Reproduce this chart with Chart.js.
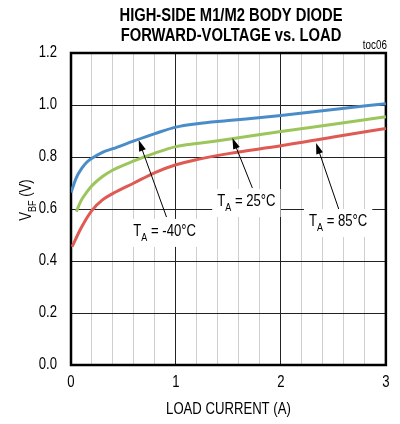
<!DOCTYPE html>
<html>
<head>
<meta charset="utf-8">
<script src="https://cdn.jsdelivr.net/npm/chart.js@4.4.1/dist/chart.umd.min.js"></script>
<style>
  body { margin: 0; background: #fff; }
  #wrap { width: 400px; height: 424px; }
</style>
</head>
<body>
<div id="wrap"><canvas id="chart" width="400" height="424"></canvas></div>
<script>
// load current (A) / body diode forward voltage (V)
const xM40 = [0, 0.05, 0.1, 0.15, 0.2, 0.3, 0.4, 0.6, 0.8, 1.0, 1.2, 1.5, 2.0, 2.5, 3.0];
const vM40 = [0.663, 0.72, 0.755, 0.78, 0.795, 0.818, 0.832, 0.862, 0.89, 0.915, 0.928, 0.94, 0.96, 0.983, 1.005];

const x25 = [0.05, 0.1, 0.15, 0.2, 0.3, 0.4, 0.6, 0.8, 1.0, 1.2, 1.5, 2.0, 2.5, 3.0];
const v25 = [0.59, 0.635, 0.665, 0.69, 0.725, 0.75, 0.785, 0.815, 0.84, 0.852, 0.868, 0.898, 0.926, 0.955];

const x85 = [0.01, 0.1, 0.2, 0.3, 0.4, 0.6, 0.8, 1.0, 1.2, 1.5, 2.0, 2.5, 3.0];
const v85 = [0.455, 0.53, 0.595, 0.635, 0.66, 0.7, 0.74, 0.77, 0.79, 0.813, 0.843, 0.877, 0.91];

const xTicks = [0, 1, 2, 3];
const yTicks = [0, 0.2, 0.4, 0.6, 0.8, 1.0, 1.2];

const seriesNames = ['-40°C', '25°C', '85°C'];
const seriesColors = ['#4a8cc8', '#9cc65c', '#de5a52'];

// label text, label centre, arrow tail, arrow tip (in data units)
const notes = [
  { t: ' = -40°C', at: [0.892, 0.512], from: [0.91, 0.569], to: [0.645, 0.865] },
  { t: ' = 25°C',  at: [1.671, 0.627], from: [1.728, 0.681], to: [1.538, 0.873] },
  { t: ' = 85°C',  at: [2.545, 0.55],  from: [2.554, 0.596], to: [2.335, 0.854] }
];

const FONT = '"Liberation Sans", Arial, sans-serif';
const SX = 0.82; // squeeze to look like Arial Narrow

function pts(xs, ys) {
  return xs.map((x, i) => ({ x: x, y: ys[i] }));
}

// draw narrow text
function txt(ctx, s, x, y, font, align) {
  ctx.save();
  ctx.font = font;
  ctx.textAlign = align || 'left';
  ctx.textBaseline = 'middle';
  ctx.translate(x, y);
  ctx.scale(SX, 1);
  ctx.fillText(s, 0, 0);
  ctx.restore();
}
function tw(ctx, s, font) {
  ctx.font = font;
  return ctx.measureText(s).width * SX;
}

// main text + subscript + rest, centred on x
function subText(ctx, a, b, c, x, y) {
  const big = '16px ' + FONT, small = '11px ' + FONT;
  const wa = tw(ctx, a, big), wb = tw(ctx, b, small), wc = tw(ctx, c, big);
  const left = x - (wa + wb + wc) / 2;
  txt(ctx, a, left, y, big);
  txt(ctx, b, left + wa, y + 6, small);
  txt(ctx, c, left + wa + wb, y, big);
  return wa + wb + wc;
}

const extras = {
  id: 'extras',
  beforeDatasetsDraw(chart) {
    const ctx = chart.ctx, a = chart.chartArea;
    ctx.save();
    ctx.strokeStyle = '#000';
    ctx.lineWidth = 2.5;
    ctx.strokeRect(a.left, a.top, a.right - a.left, a.bottom - a.top);
    ctx.restore();
  },
  afterDatasetsDraw(chart) {
    const ctx = chart.ctx, xs = chart.scales.x, ys = chart.scales.y;
    ctx.save();
    notes.forEach(n => {
      const x1 = xs.getPixelForValue(n.from[0]), y1 = ys.getPixelForValue(n.from[1]);
      const x2 = xs.getPixelForValue(n.to[0]), y2 = ys.getPixelForValue(n.to[1]);
      const ang = Math.atan2(y2 - y1, x2 - x1);
      ctx.strokeStyle = '#000';
      ctx.lineWidth = 1;
      ctx.beginPath();
      ctx.moveTo(x1, y1);
      ctx.lineTo(x2 - 8 * Math.cos(ang), y2 - 8 * Math.sin(ang));
      ctx.stroke();
      ctx.fillStyle = '#000';
      ctx.beginPath();
      ctx.moveTo(x2, y2);
      ctx.lineTo(x2 - 11 * Math.cos(ang) + 3.5 * Math.sin(ang), y2 - 11 * Math.sin(ang) - 3.5 * Math.cos(ang));
      ctx.lineTo(x2 - 11 * Math.cos(ang) - 3.5 * Math.sin(ang), y2 - 11 * Math.sin(ang) + 3.5 * Math.cos(ang));
      ctx.closePath();
      ctx.fill();

      const cx = xs.getPixelForValue(n.at[0]), cy = ys.getPixelForValue(n.at[1]);
      const w = tw(ctx, 'T', '16px ' + FONT) + tw(ctx, 'A', '11px ' + FONT) + tw(ctx, n.t, '16px ' + FONT);
      ctx.fillStyle = '#fff';
      ctx.fillRect(cx - w / 2 - 5, cy - 13, w + 10, 28);
      ctx.fillStyle = '#000';
      subText(ctx, 'T', 'A', n.t, cx, cy);
    });
    ctx.restore();
  },
  afterDraw(chart) {
    const ctx = chart.ctx, a = chart.chartArea, xs = chart.scales.x, ys = chart.scales.y;
    ctx.save();
    ctx.fillStyle = '#000';
    txt(ctx, 'HIGH-SIDE M1/M2 BODY DIODE', 231, 16, 'bold 18px ' + FONT, 'center');
    txt(ctx, 'FORWARD-VOLTAGE vs. LOAD', 231, 36, 'bold 18px ' + FONT, 'center');
    txt(ctx, 'toc06', a.right + 1, 46, '12px ' + FONT, 'right');

    // tick labels
    xTicks.forEach(v => txt(ctx, String(v), xs.getPixelForValue(v), 383, '16px ' + FONT, 'center'));
    yTicks.forEach(v => txt(ctx, v.toFixed(1), 57, ys.getPixelForValue(v), '16px ' + FONT, 'right'));

    txt(ctx, 'LOAD CURRENT (A)', (a.left + a.right) / 2, 410, '16px ' + FONT, 'center');

    // y title, rotated
    ctx.translate(27, 200);
    ctx.rotate(-Math.PI / 2);
    subText(ctx, 'V', 'BF', ' (V)', 0, 0);
    ctx.restore();
  }
};

new Chart(document.getElementById('chart'), {
  type: 'line',
  data: {
    datasets: [
      { label: seriesNames[0], data: pts(xM40, vM40) },
      { label: seriesNames[1], data: pts(x25, v25) },
      { label: seriesNames[2], data: pts(x85, v85) }
    ].map((d, i) => Object.assign(d, {
      borderColor: seriesColors[i],
      borderWidth: 3,
      pointRadius: 0,
      fill: false,
      cubicInterpolationMode: 'monotone'
    }))
  },
  options: {
    responsive: false,
    animation: false,
    layout: { padding: { top: 53, right: 13, left: 0, bottom: 0 } },
    plugins: { legend: { display: false }, tooltip: { enabled: false } },
    scales: {
      x: {
        type: 'linear',
        min: 0, max: 3,
        afterFit: s => { s.height = 59; },
        border: { display: false },
        grid: {
          drawTicks: false,
          lineWidth: 1,
          color: c => (Math.abs(c.tick.value - Math.round(c.tick.value)) < 1e-6 ? '#222' : '#cfcfcf')
        },
        ticks: {
          stepSize: 0.2,
          autoSkip: false,
          maxRotation: 0,
          color: 'rgba(0,0,0,0)',
          font: { size: 16 }
        }
      },
      y: {
        min: 0, max: 1.2,
        afterFit: s => { s.width = 71; },
        border: { display: false },
        grid: { drawTicks: false, color: '#222', lineWidth: 1 },
        ticks: {
          stepSize: 0.2,
          color: 'rgba(0,0,0,0)',
          font: { size: 16 }
        }
      }
    }
  },
  plugins: [extras]
});
</script>
</body>
</html>
